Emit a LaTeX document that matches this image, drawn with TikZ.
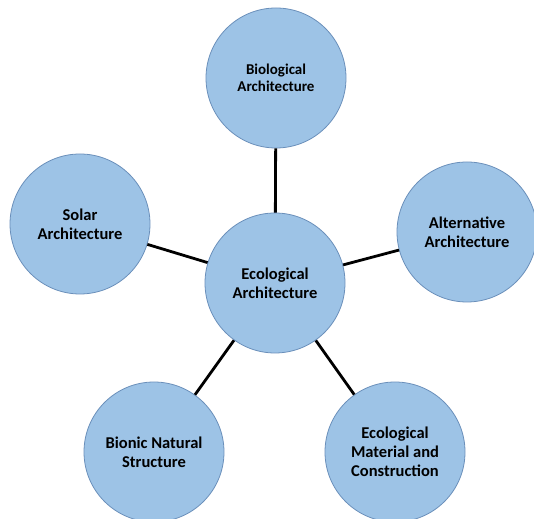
\documentclass[tikz,border=0pt]{standalone}
\usepackage{fontspec}
\setmainfont{Carlito}
\definecolor{bulle}{HTML}{9DC3E6}
\definecolor{bord}{HTML}{6A8FBA}
\tikzset{
  bubble/.style={circle,fill=bulle,draw=bord,line width=0.8pt,minimum size=140pt,
    inner sep=0pt,align=center,font=\fontsize{16.5}{19}\selectfont\bfseries},
  lien/.style={line width=2.8pt,color=black}
}
\begin{document}
\begin{tikzpicture}[x=1pt,y=1pt]
\useasboundingbox (0,0) rectangle (534,518);
  % les liens d'abord
  \coordinate (c) at (275,235);
  \node[bubble,font=\fontsize{15}{16.5}\selectfont\bfseries] (bio) at (276,440) {Biological\\Architecture};
  \node[bubble] (solar) at (80,294) {Solar\\Architecture};
  \node[bubble] (alt) at (467,286) {Alternative\\Architecture};
  \node[bubble] (bionic) at (154,66) {Bionic Natural\\Structure};
  \node[bubble] (mat) at (395,66) {Ecological\\Material and\\Construction};
  \foreach \n in {bio,solar,alt,bionic,mat}
    \draw[lien] (c) -- (\n);
  \node[bubble] (eco) at (c) {Ecological\\Architecture};
  % \draw[lien] (eco) -- (bio);
\end{tikzpicture}
\end{document}
